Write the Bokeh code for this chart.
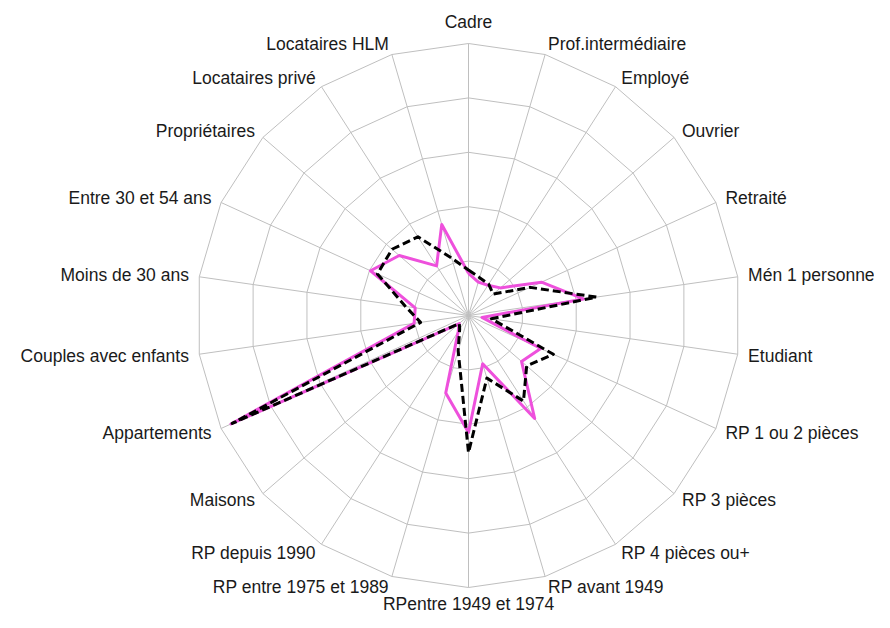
import numpy as np
from bokeh.plotting import figure
from bokeh.embed import file_html
from bokeh.resources import INLINE
from bokeh.core.properties import value

categories = ["Cadre", "Prof.intermédiaire", "Employé", "Ouvrier", "Retraité",
              "Mén 1 personne", "Etudiant", "RP 1 ou 2 pièces", "RP 3 pièces",
              "RP 4 pièces ou+", "RP avant 1949", "RPentre 1949 et 1974",
              "RP entre 1975 et 1989", "RP depuis 1990", "Maisons", "Appartements",
              "Couples avec enfants", "Moins de 30 ans", "Entre 30 et 54 ans",
              "Propriétaires", "Locataires privé", "Locataires HLM"]

serie_rose = [15.5, 12.8, 13.2, 15.5, 29.5, 42.7, 5.0, 29.2, 25.8, 45.0, 18.5,
              43.0, 29.7, 7.0, 4.5, 96.0, 20.2, 19.8, 39.6, 33.7, 21.7, 34.9]

serie_noire = [16.7, 14.5, 13.7, 12.0, 24.9, 47.5, 8.5, 34.3, 28.3, 37.4, 24.0,
               50.4, 13.5, 6.0, 4.5, 95.5, 17.8, 23.4, 36.8, 37.2, 34.4, 22.0]

ring_levels = [20, 40, 60, 80, 100]

N = len(categories)
theta = 2 * np.pi * np.arange(N) / N
sx, cy = np.sin(theta), np.cos(theta)

W, H = 874, 612
CX, CY = 468, 315      # centre in pixels from top-left
PX = 2.72              # pixels per unit
p = figure(width=W, height=H,
           x_range=(-CX / PX, (W - CX) / PX), y_range=(-(H - CY) / PX, CY / PX),
           x_axis_type=None, y_axis_type=None, min_border=0,
           toolbar_location=None, output_backend="svg",
           outline_line_color=None, background_fill_color="white",
           border_fill_color="white")
p.grid.visible = False

grid_col = "#BFBFBF"
xs_r, ys_r = [], []
for lv in ring_levels:
    xs_r.append(list(np.append(lv * sx, lv * sx[0])))
    ys_r.append(list(np.append(lv * cy, lv * cy[0])))
p.multi_line(xs_r, ys_r, line_color=grid_col, line_width=1)

rmax = ring_levels[-1]
p.segment(x0=np.zeros(N), y0=np.zeros(N), x1=rmax * sx, y1=rmax * cy,
          line_color=grid_col, line_width=1)

def closed(vals):
    v = np.array(vals, dtype=float)
    x = np.append(v * sx, v[0] * sx[0])
    y = np.append(v * cy, v[0] * cy[0])
    return x, y

xr, yr = closed(serie_rose)
p.line(xr, yr, line_color="#EE50DC", line_width=3, line_join="round")
xn, yn = closed(serie_noire)
p.line(xn, yn, line_color="black", line_width=3, line_dash="8 4", line_join="round")

for k, lab in enumerate(categories):
    s, c = sx[k], cy[k]
    if abs(s) < 0.05:
        align = "center"
        if c > 0:
            base, off = "bottom", 12
        else:
            base, off = "top", 6
    else:
        align = "left" if s > 0 else "right"
        base, off = "middle", 10.5
    p.text(x=[rmax * s], y=[rmax * c], text=[lab],
           x_offset=off * s, y_offset=-off * c,
           text_align=align, text_baseline=base,
           text_font=value("Liberation Sans"), text_font_size="17.5px",
           text_color="#1a1a1a")

open("out.html", "w").write(file_html(p, INLINE))
